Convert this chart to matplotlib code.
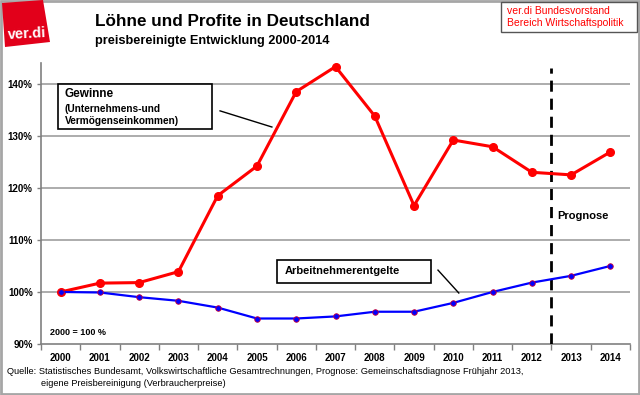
import numpy as np
import matplotlib
matplotlib.use("Agg")
from matplotlib import pyplot as plt
from matplotlib.patches import Rectangle, Polygon

plt.rcParams['font.family'] = ['Liberation Sans', 'DejaVu Sans']

# data
years = ['2000', '2001', '2002', '2003', '2004', '2005', '2006', '2007',
         '2008', '2009', '2010', '2011', '2012', '2013', '2014']
gewinne = [100.0, 101.7, 101.8, 103.9, 118.5, 124.2, 138.5, 143.3,
           133.8, 116.6, 129.2, 127.9, 123.0, 122.5, 126.9]
arbeitnehmer = [100.0, 99.9, 99.0, 98.3, 97.0, 94.9, 94.9, 95.3,
                96.2, 96.2, 97.9, 100.0, 101.8, 103.1, 105.0]
yticks = [90, 100, 110, 120, 130, 140]
prognose_start = 12.5

W, H = 640, 395
fig = plt.figure(figsize=(W / 100, H / 100), dpi=100)

def fx(px):
    return px / W

def fy(py):
    return 1 - py / H

# outer frame
fig.patches.append(Rectangle((0.001, 0.002), 0.997, 0.995, transform=fig.transFigure,
                             fill=False, ec='#a6a6a6', lw=2))

# logo
logo = [(2, 3), (43, 0), (50, 42), (5, 47)]
fig.patches.append(Polygon([(fx(a), fy(b)) for a, b in logo], closed=True,
                           transform=fig.transFigure, fc='#e2001a', ec='none'))
fig.text(fx(27), fy(34), 'ver.di', color='white', fontsize=10.5, fontweight='bold',
         ha='center', va='center', rotation=3)

# titles
fig.text(fx(95), fy(21), 'Löhne und Profite in Deutschland', fontsize=12.3,
         fontweight='bold', ha='left', va='center')
fig.text(fx(95), fy(41), 'preisbereinigte Entwicklung 2000-2014', fontsize=9.2,
         fontweight='bold', ha='left', va='center')

# top-right box
fig.patches.append(Rectangle((fx(501), fy(32)), fx(136), 30 / H, transform=fig.transFigure,
                             fill=False, ec='#555555', lw=1))
fig.text(fx(507), fy(11), 'ver.di Bundesvorstand', color='#ff0000', fontsize=7.5,
         ha='left', va='center')
fig.text(fx(507), fy(23), 'Bereich Wirtschaftspolitik', color='#ff0000', fontsize=7.5,
         ha='left', va='center')

# main axes
ax = fig.add_axes([fx(41), fy(344), fx(589), (344 - 63) / H])
x = np.arange(len(years))
ax.plot(x, gewinne, color='#ff0000', lw=2.2, marker='o', ms=5.5, zorder=4)
ax.plot(x, arbeitnehmer, color='#0000ff', lw=1.6, marker='o', ms=4,
        mfc='#0000ff', mec='#cc0033', mew=0.6, zorder=4)

ax.set_xlim(-0.5, len(years) - 0.5)
ax.set_ylim(90, 144)
ax.set_yticks(yticks)
ax.set_yticklabels([f'{v}%' for v in yticks], fontsize=7, fontweight='bold')
ax.set_xticks(x)
ax.set_xticklabels(years, fontsize=7, fontweight='bold')
ax.set_xticks(np.arange(-0.5, len(years)), minor=True)
ax.tick_params(axis='x', which='major', length=0, pad=6.5)
ax.tick_params(axis='x', which='minor', length=4, color='#808080', width=1)
ax.tick_params(axis='y', length=3, color='#808080', width=1, pad=3)
for s in ['top', 'right']:
    ax.spines[s].set_visible(False)
for s in ['left', 'bottom']:
    ax.spines[s].set_color('#808080')
    ax.spines[s].set_linewidth(1.2)
for v in yticks[1:]:
    ax.axhline(v, color='#a6a6a6', lw=1.3, zorder=1)

# forecast line
ax.axvline(prognose_start, ymin=0, ymax=0.982, color='black', lw=2, ls=(0, (4, 2.5)), zorder=3)
ax.text(12.66, 114.6, 'Prognose', fontsize=8, fontweight='bold', ha='left', va='center')
ax.text(-0.27, 92.3, '2000 = 100 %', fontsize=6.5, fontweight='bold', ha='left', va='center')

# label boxes
ax.add_patch(Rectangle((-0.067, 131.3), 3.92, 8.7, fill=True, fc='white', ec='black',
                       lw=1.2, zorder=5))
ax.text(0.1, 138.0, 'Gewinne', fontsize=8.5, fontweight='bold', ha='left', va='center', zorder=6)
ax.text(0.1, 135.2, '(Unternehmens-und', fontsize=7.3, fontweight='bold', ha='left',
        va='center', zorder=6)
ax.text(0.1, 132.8, 'Vermögenseinkommen)', fontsize=7.3, fontweight='bold', ha='left',
        va='center', zorder=6)
ax.plot([4.06, 5.38], [134.8, 131.7], color='black', lw=1, zorder=3)

ax.add_patch(Rectangle((5.51, 101.7), 3.92, 4.45, fill=True, fc='white', ec='black',
                       lw=1.2, zorder=5))
ax.text(5.7, 103.95, 'Arbeitnehmerentgelte', fontsize=8, fontweight='bold', ha='left',
        va='center', zorder=6)
ax.plot([9.61, 10.14], [104.2, 99.8], color='black', lw=1, zorder=3)

# source
fig.text(fx(7), fy(371), 'Quelle: Statistisches Bundesamt, Volkswirtschaftliche Gesamtrechnungen, '
         'Prognose: Gemeinschaftsdiagnose Frühjahr 2013,', fontsize=6.7,
         family=['Liberation Sans Narrow', 'Liberation Sans'], ha='left', va='center')
fig.text(fx(41), fy(383), 'eigene Preisbereinigung (Verbraucherpreise)', fontsize=6.7,
         family=['Liberation Sans Narrow', 'Liberation Sans'], ha='left', va='center')

fig.savefig('out.png', dpi=100)
